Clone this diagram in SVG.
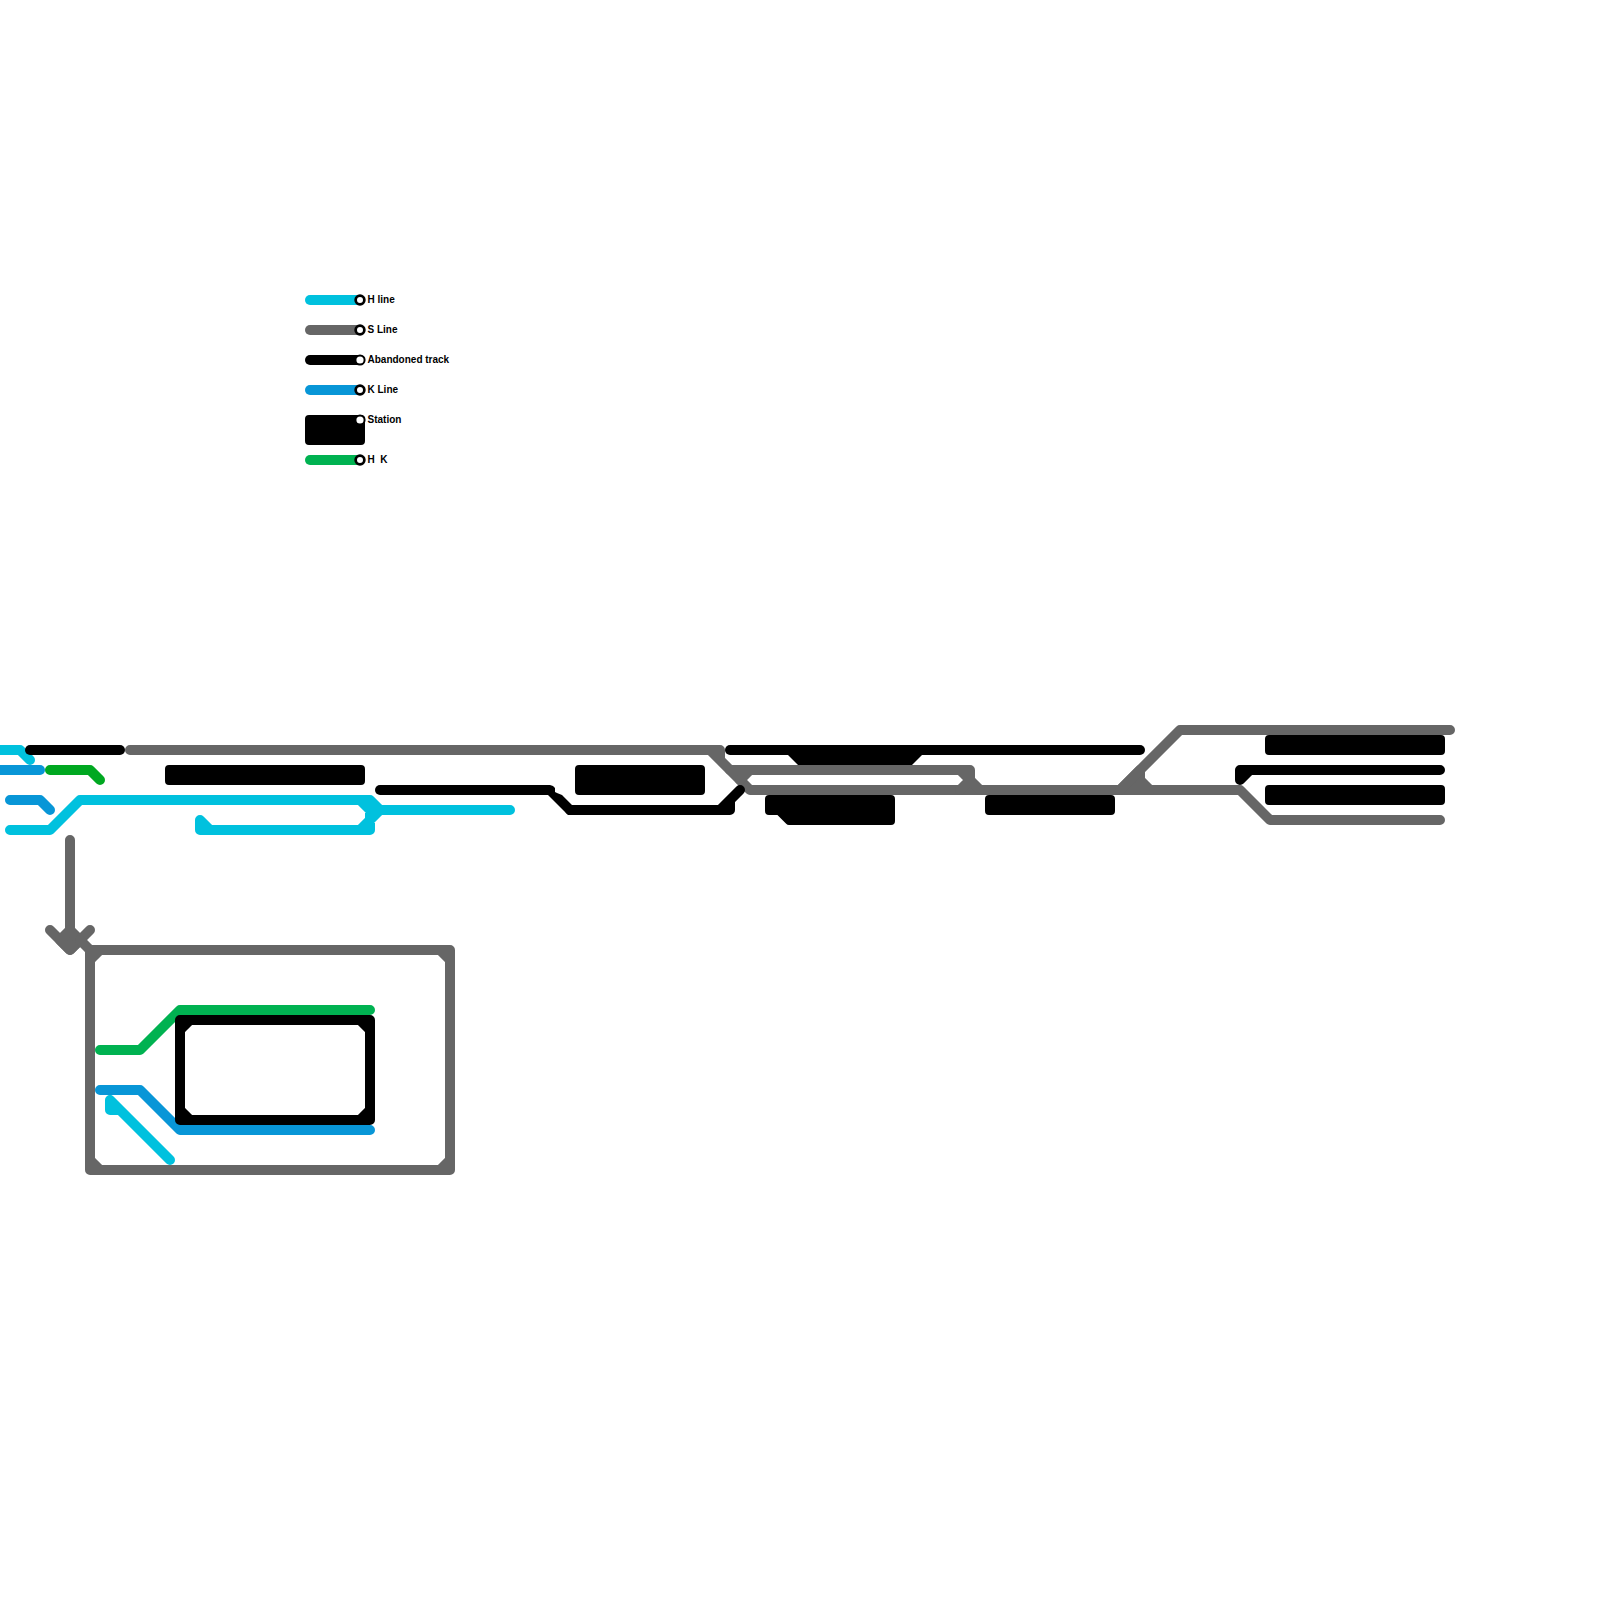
<svg xmlns="http://www.w3.org/2000/svg" width="1600" height="1600" viewBox="0 0 1600 1600">
<style>
.l{fill:none;stroke-width:10;stroke-linecap:round;stroke-linejoin:round}
.h{stroke:#00c1de}.s{stroke:#666666}.a{stroke:#000000}.k{stroke:#0896d7}.g{stroke:#00b251}.g2{stroke:#00a821}
.st{fill:#000;stroke:#000;stroke-width:8;stroke-linejoin:round}
.d{fill:#fff;stroke:#000;stroke-width:2.7}
.d2{fill:#fff;stroke:#000;stroke-width:2}
.t{font-family:"Liberation Sans",Arial,sans-serif;font-size:10px;font-weight:700;fill:#000}
</style>
<rect width="1600" height="1600" fill="#fff"/>
<g id="stations">
<g id="station-1"><polygon class="st" points="169,769 361,769 361,781 169,781"/></g>
<g id="station-2"><polygon class="st" points="579,769 701,769 701,791 579,791"/></g>
<g id="station-3"><polygon fill="#000" points="788,755 922,755 902,775 808,775"/></g>
<g id="station-4"><polygon class="st" points="769,799 891,799 891,821 789,821 779,811 769,811"/></g>
<g id="station-5"><polygon class="st" points="989,799 1111,799 1111,811 989,811"/></g>
<g id="station-6"><polygon class="st" points="1269,739 1441,739 1441,751 1269,751"/></g>
<g id="station-7"><polygon class="st" points="1269,789 1441,789 1441,801 1269,801"/></g>
</g>
<g id="connectors">
<path class="l h" d="M-10,750H20L30,760"/>
<path class="l k" d="M-10,770H40"/>
<path class="l g2" d="M50,770H90L100,780"/>
<path class="l k" d="M10,800H40L50,810"/>
<path class="l h" d="M10,830H50L80,800H370L380,810H510M380,810L370,820V830H200V820L210,830M360,800L370,810V820L360,830"/>
<path class="l a" d="M30,750H120"/>
<path class="l a" d="M730,750H1140"/>
<path class="l a" d="M1440,770H1240V780L1250,770"/>
<path class="l s" d="M130,750H720V760M710,750L750,790H1240L1270,820H1440"/>
<path class="l s" d="M730,770H970V780L980,790M750,770L740,780M960,790L970,780L960,770"/>
<path class="l s" style="fill:#666666" d="M1120,790L1140,770V780L1150,790Z"/>
<path class="l s" d="M1120,790L1180,730H1450"/>
<path class="l a" d="M380,790H545"/>
<polygon fill="#000" points="545,785 550,785 553,786 555,788 555,792 557,793 562,795 575,808 575,815 568,815 548,795 545,795"/>
<path class="l a" d="M570,810H730V800L740,790M720,810L740,790"/>
<path class="l s" d="M70,840V950M50,930L70,950L90,930"/>
<path class="l s" style="fill:#666666" d="M70,930L60,940L70,950L80,940Z"/>
<path class="l s" d="M80,940L90,950H450V1170H90V950M90,960L100,950M440,950L450,960M450,1160L440,1170M100,1170L90,1160"/>
<path class="l g" d="M100,1050H140L180,1010H370"/>
<path class="l k" d="M100,1090H140L180,1130H370"/>
<path class="l a" d="M180,1020H370V1120H180ZM180,1030L190,1020M360,1020L370,1030M370,1110L360,1120M190,1120L180,1110"/>
<path class="l h" d="M110,1100L170,1160M110,1100V1110H120"/>
</g>
<g id="legend">
<g id="legend-h"><path class="l h" d="M310,300H360"/><circle class="d" cx="360" cy="300" r="4.350"/><text class="t" x="367.500" y="303">H line</text></g>
<g id="legend-s"><path class="l s" d="M310,330H360"/><circle class="d" cx="360" cy="330" r="4.350"/><text class="t" x="367.500" y="333">S Line</text></g>
<g id="legend-a"><path class="l a" d="M310,360H360"/><circle class="d2" cx="360" cy="360" r="4.600"/><text class="t" x="367.500" y="363">Abandoned track</text></g>
<g id="legend-k"><path class="l k" d="M310,390H360"/><circle class="d" cx="360" cy="390" r="4.350"/><text class="t" x="367.500" y="393">K Line</text></g>
<g id="legend-station"><rect x="309" y="419" width="52" height="22" class="st"/><circle class="d2" cx="360" cy="420" r="4.600"/><text class="t" x="367.500" y="423">Station</text></g>
<g id="legend-hk"><path class="l g" d="M310,460H360"/><circle class="d" cx="360" cy="460" r="4.350"/><text class="t" x="367.500" y="463" xml:space="preserve">H  K</text></g>
</g>
</svg>
